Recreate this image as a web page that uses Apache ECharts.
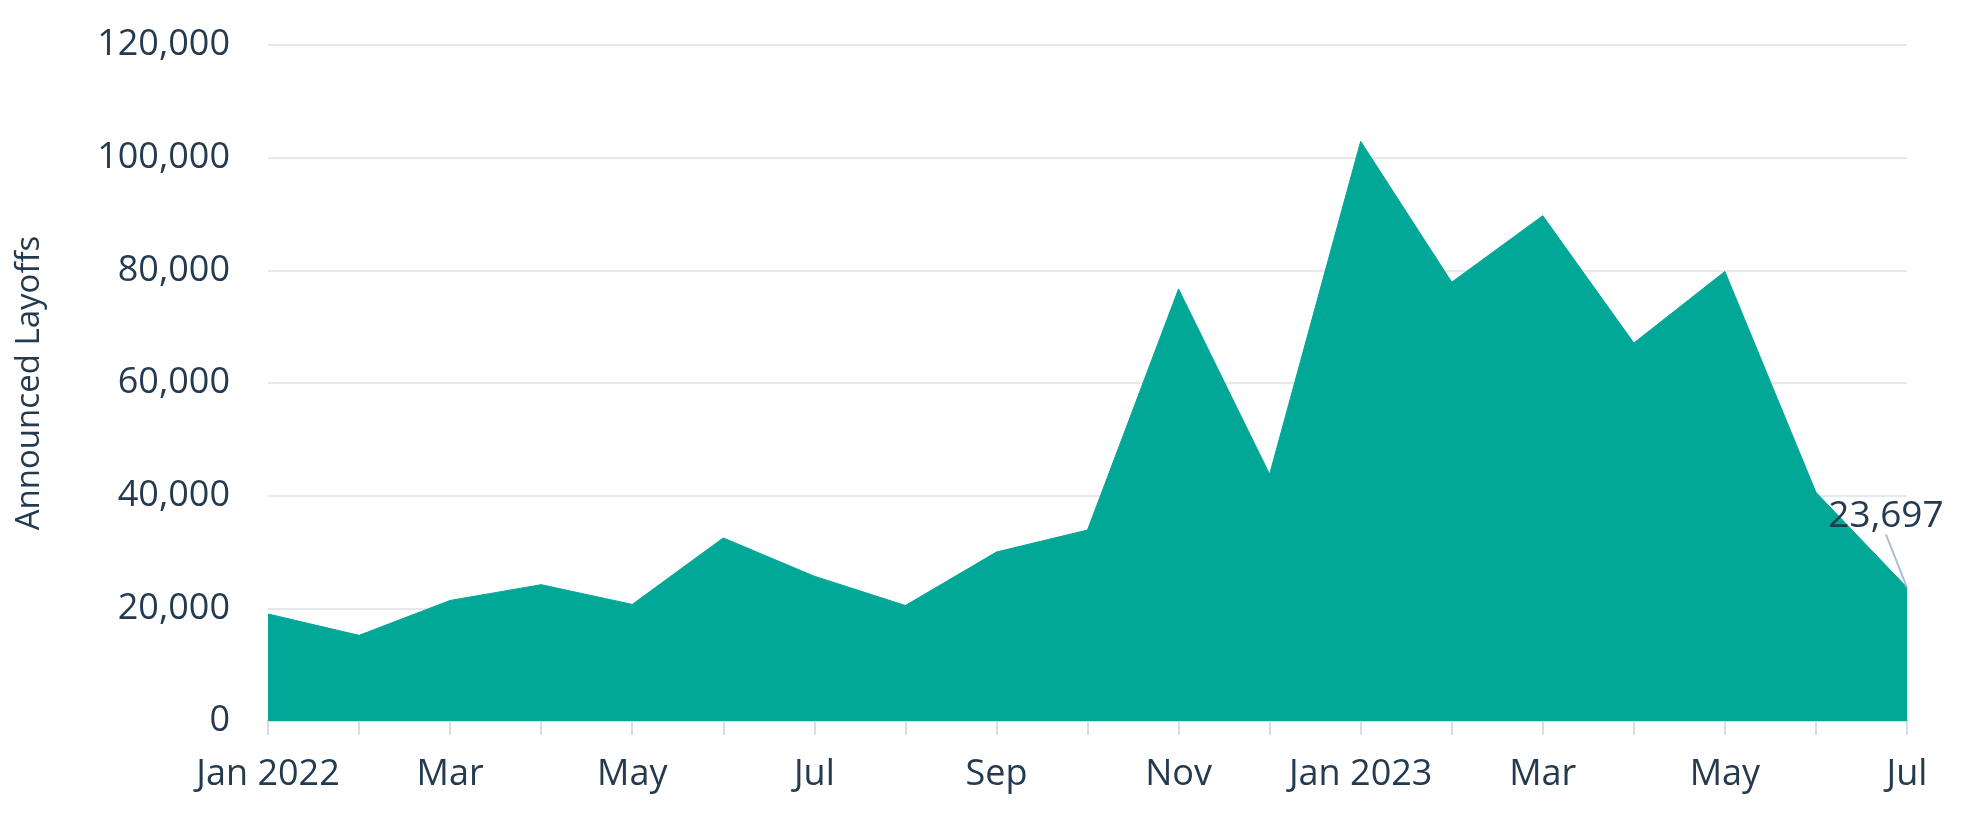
<!DOCTYPE html>
<html>
<head>
<meta charset="utf-8">
<script src="https://cdn.jsdelivr.net/npm/echarts@6/dist/echarts.min.js"></script>
<style>
  html, body { margin: 0; padding: 0; background: #ffffff; }
  #chart { width: 1966px; height: 820px; }
</style>
</head>
<body>
<div id="chart"></div>
<script>
const months = ['Jan 2022', 'Feb', 'Mar', 'Apr', 'May', 'Jun', 'Jul', 'Aug', 'Sep', 'Oct', 'Nov', 'Dec',
                'Jan 2023', 'Feb', 'Mar', 'Apr', 'May', 'Jun', 'Jul'];
const layoffs = [19000, 15200, 21400, 24200, 20700, 32500, 25700, 20500, 30000, 33900, 76700, 43800,
                 102900, 77900, 89700, 67100, 79800, 40600, 23697];
const yTicks = { min: 0, max: 120000, interval: 20000 };
const yAxisTitle = 'Announced Layoffs';
const annotatedIndex = layoffs.length - 1;

const textColor = '#243a4f';
const fontFamily = '"Open Sans", "Noto Sans", sans-serif';

const chart = echarts.init(document.getElementById('chart'), null, { renderer: 'canvas' });

const seriesData = layoffs.map((v, i) => {
  if (i === annotatedIndex) {
    return {
      value: v,
      label: {
        show: true,
        position: 'top',
        distance: 5,
        formatter: (p) => p.value.toLocaleString('en-US'),
        color: textColor,
        opacity: 1,
        fontFamily: fontFamily,
        fontSize: 37
      },
      labelLine: { show: true, lineStyle: { color: '#a8bcd0', width: 2 } }
    };
  }
  return v;
});

chart.setOption({
  animation: false,
  backgroundColor: '#ffffff',
  grid: { left: 268, right: 59, top: 45, bottom: 99, containLabel: false },
  xAxis: {
    type: 'category',
    data: months,
    boundaryGap: false,
    axisLine: { show: true, lineStyle: { color: '#d5dee7', width: 2 } },
    axisTick: { show: true, interval: 0, length: 14, lineStyle: { color: '#d5dee7', width: 2 } },
    axisLabel: {
      interval: 1,
      margin: 36,
      color: textColor,
      fontFamily: fontFamily,
      fontSize: 36
    },
    splitLine: { show: false }
  },
  yAxis: {
    type: 'value',
    min: yTicks.min,
    max: yTicks.max,
    interval: yTicks.interval,
    name: yAxisTitle,
    nameLocation: 'middle',
    nameGap: 222,
    nameRotate: 90,
    nameTextStyle: { color: textColor, fontFamily: fontFamily, fontSize: 33 },
    axisLine: { show: false },
    axisTick: { show: false },
    axisLabel: {
      margin: 38,
      color: textColor,
      fontFamily: fontFamily,
      fontSize: 36,
      formatter: (v) => v.toLocaleString('en-US')
    },
    splitLine: { show: true, lineStyle: { color: '#e6e9eb', width: 2 } }
  },
  series: [{
    type: 'line',
    data: seriesData,
    symbol: 'circle',
    symbolSize: 0.01,
    showSymbol: true,
    lineStyle: { color: '#01a797', width: 1 },
    itemStyle: { color: '#01a797' },
    areaStyle: { color: '#01a797', opacity: 1 },
    z: 3,
    labelLayout: (params) => {
      if (params.dataIndex === annotatedIndex) {
        return { dx: -21, dy: -48 };
      }
      return {};
    }
  }]
});
</script>
</body>
</html>
